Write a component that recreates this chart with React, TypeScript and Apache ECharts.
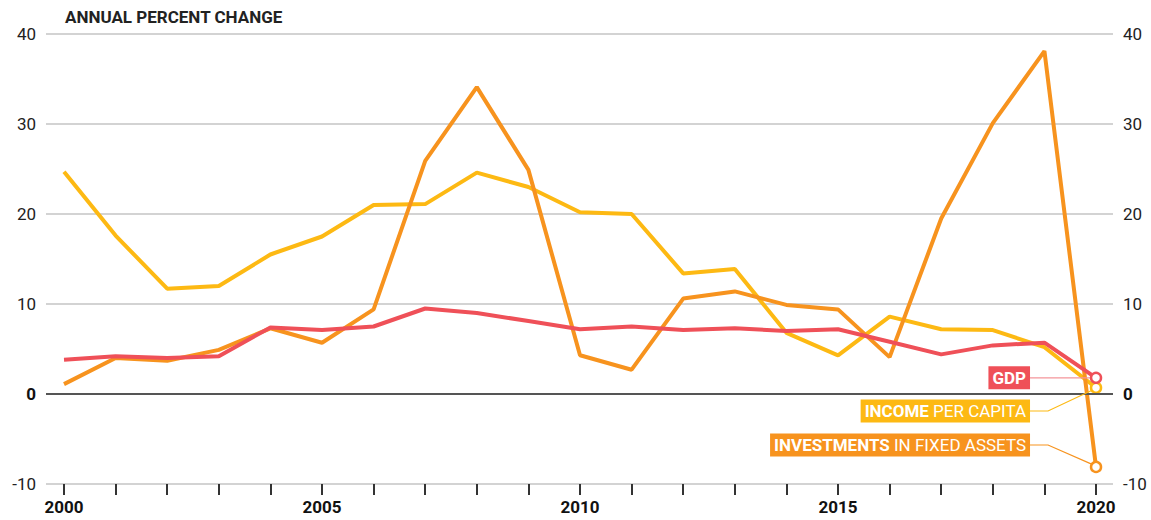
import React, { useEffect, useRef } from "react";
import * as echarts from "echarts";

const years = [2000, 2001, 2002, 2003, 2004, 2005, 2006, 2007, 2008, 2009, 2010, 2011, 2012, 2013, 2014, 2015, 2016, 2017, 2018, 2019, 2020];
const gdp = [3.8, 4.2, 4.0, 4.2, 7.4, 7.1, 7.5, 9.5, 9.0, 8.1, 7.2, 7.5, 7.1, 7.3, 7.0, 7.2, 5.8, 4.4, 5.4, 5.7, 1.8];
const income = [24.7, 17.6, 11.7, 12.0, 15.5, 17.5, 21.0, 21.1, 24.6, 23.0, 20.2, 20.0, 13.4, 13.9, 6.8, 4.3, 8.6, 7.2, 7.1, 5.2, 0.7];
const invest = [1.1, 4.0, 3.7, 4.9, 7.3, 5.7, 9.4, 25.9, 34.1, 24.9, 4.3, 2.7, 10.6, 11.4, 9.9, 9.4, 4.1, 19.5, 30.1, 38.1, -8.1];
const yTicks = { min: -10, max: 40, interval: 10 };

const RED = "#EF5058";
const YELLOW = "#FDB913";
const ORANGE = "#F7931E";
const FONT = "Roboto, 'Noto Sans', sans-serif";

function mkData(vals: number[], color: string) {
  return vals.map((v, i) => {
    if (i === vals.length - 1) {
      return {
        value: [years[i], v],
        symbol: "circle",
        symbolSize: 10,
        itemStyle: { color: "#fff", borderColor: color, borderWidth: 2.5 },
      };
    }
    return { value: [years[i], v] };
  });
}

export default function App() {
  const ref = useRef<HTMLDivElement>(null);
  useEffect(() => {
    if (!ref.current) return;
    const chart = echarts.init(ref.current, undefined, { renderer: "svg" });
    const yLabel = {
      fontSize: 17,
      color: "#222",
      fontFamily: FONT,
      margin: 10,
      formatter: (v: number) => (v === 0 ? "{b|0}" : String(v)),
      rich: { b: { fontWeight: "bold", fontSize: 17, color: "#111", fontFamily: FONT } },
    };
    const lineSeries = (name: string, vals: number[], color: string, extra: any = {}) => ({
      name,
      type: "line",
      xAxisIndex: 0,
      yAxisIndex: 0,
      data: mkData(vals, color),
      symbol: "none",
      lineStyle: { color, width: 4 },
      itemStyle: { color },
      ...extra,
    });
    chart.setOption({
      animation: false,
      textStyle: { fontFamily: FONT },
      grid: [
        { left: 46, right: 38, top: 34, height: 450 },
        { left: 64, right: 55, top: 34, height: 450 },
      ],
      xAxis: [
        {
          type: "value",
          gridIndex: 0,
          min: 1999.651,
          max: 2020.329,
          show: false,
          splitLine: { show: false },
        },
        {
          type: "category",
          gridIndex: 1,
          position: "bottom",
          data: years.map(String),
          boundaryGap: false,
          axisLine: { show: false, onZero: false },
          axisTick: { show: true, interval: 0, length: 11, lineStyle: { color: "#333", width: 2 } },
          axisLabel: {
            interval: 4,
            fontSize: 17,
            fontWeight: "bold",
            color: "#111",
            fontFamily: FONT,
            margin: 14,
          },
          splitLine: { show: false },
        },
      ],
      yAxis: [
        {
          type: "value",
          gridIndex: 0,
          position: "left",
          ...yTicks,
          axisLine: { show: false },
          axisTick: { show: false },
          axisLabel: yLabel,
          splitLine: { show: true, lineStyle: { color: "#c4c4c4", width: 1.5 } },
        },
        {
          type: "value",
          gridIndex: 0,
          position: "right",
          ...yTicks,
          axisLine: { show: false },
          axisTick: { show: false },
          axisLabel: yLabel,
          splitLine: { show: false },
        },
        {
          type: "value",
          gridIndex: 1,
          ...yTicks,
          show: false,
        },
      ],
      series: [
        lineSeries("INCOME PER CAPITA", income, YELLOW, {
          markLine: {
            silent: true,
            symbol: "none",
            label: { show: false },
            lineStyle: { color: "#555", width: 2, type: "solid" },
            data: [{ yAxis: 0 }],
          },
        }),
        lineSeries("INVESTMENTS IN FIXED ASSETS", invest, ORANGE),
        lineSeries("GDP", gdp, RED),
      ],
    });

    const last = years.length - 1;
    const pG = chart.convertToPixel({ gridIndex: 0 }, [years[last], gdp[last]]) as number[];
    const pI = chart.convertToPixel({ gridIndex: 0 }, [years[last], income[last]]) as number[];
    const pV = chart.convertToPixel({ gridIndex: 0 }, [years[last], invest[last]]) as number[];
    const p0 = chart.convertToPixel({ gridIndex: 0 }, [years[last], 0]) as number[];
    const boxRight = pG[0] - 66;
    const yG = pG[1];
    const yI = p0[1] + 17;
    const yV = yI + 34;
    const elbow = boxRight + 18;
    const boxText = (y: number, text: string, bg: string) => ({
      type: "text",
      x: boxRight,
      y,
      z: 100,
      style: {
        text,
        align: "right",
        verticalAlign: "middle",
        fill: "#fff",
        fontSize: 17,
        fontFamily: FONT,
        lineHeight: 17,
        backgroundColor: bg,
        padding: [3, 4, 3, 4],
        rich: {
          b: { fontWeight: "bold", fontSize: 17, fill: "#fff", fontFamily: FONT, lineHeight: 17 },
          r: { fontWeight: "normal", fontSize: 17, fill: "#fff", fontFamily: FONT, lineHeight: 17 },
        },
      },
    });
    chart.setOption({
      graphic: [
        {
          type: "text",
          x: 65,
          y: 17,
          style: {
            text: "ANNUAL PERCENT CHANGE",
            fontSize: 17,
            fontWeight: "bold",
            fontFamily: FONT,
            fill: "#222",
            verticalAlign: "middle",
          },
        },
        {
          type: "polyline",
          z: 90,
          shape: { points: [[boxRight, yG], [pG[0] - 6, yG]] },
          style: { stroke: "#F4959A", lineWidth: 1.2, fill: "none" },
        },
        {
          type: "polyline",
          z: 90,
          shape: { points: [[boxRight, yI], [elbow, yI], [pI[0] - 5, pI[1] + 3]] },
          style: { stroke: YELLOW, lineWidth: 1.2, fill: "none" },
        },
        {
          type: "polyline",
          z: 90,
          shape: { points: [[boxRight, yV], [elbow, yV], [pV[0] - 5, pV[1] - 3]] },
          style: { stroke: ORANGE, lineWidth: 1.2, fill: "none" },
        },
        boxText(yG, "{b|GDP}", RED),
        boxText(yI, "{b|INCOME} {r|PER CAPITA}", YELLOW),
        boxText(yV, "{b|INVESTMENTS} {r|IN FIXED ASSETS}", ORANGE),
      ],
    });
    return () => chart.dispose();
  }, []);
  return <div ref={ref} style={{ position: "absolute", left: 0, top: 0, width: 1151, height: 520 }} />;
}
